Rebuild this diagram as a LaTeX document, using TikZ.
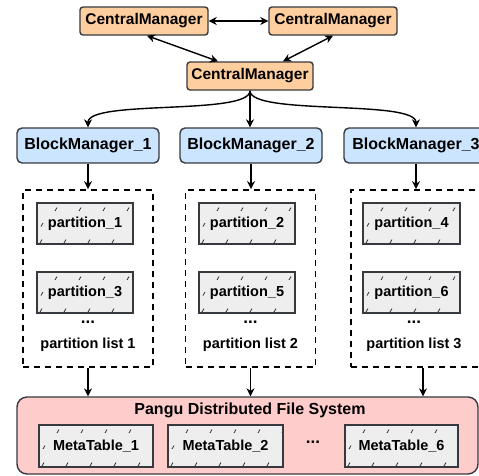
\documentclass[tikz,border=0pt]{standalone}
\usepackage{fontspec}
\setmainfont{Liberation Sans}
\usetikzlibrary{arrows.meta,positioning,calc}
\definecolor{cmfill}{HTML}{FFCE9F}
\definecolor{bmfill}{HTML}{CCE5FF}
\definecolor{fsfill}{HTML}{FFCCCC}
\definecolor{partfill}{HTML}{EEEEEE}
\definecolor{edgegray}{HTML}{36393D}

\begin{document}
\begin{tikzpicture}[
  x=1pt, y=-1pt,
  font=\fontsize{14.5}{16}\selectfont\bfseries,
  line width=1.4pt,
  % boxes of the three levels
  cmbox/.style={draw=edgegray, rounded corners=3pt, fill=cmfill, minimum width=128pt, minimum height=28pt, inner sep=0pt, font=\fontsize{15.5}{17}\selectfont\bfseries},
  bmbox/.style={draw=edgegray, rounded corners=5pt, fill=bmfill, minimum width=142pt, minimum height=35pt, inner sep=0pt, font=\fontsize{16}{18}\selectfont\bfseries},
  listbox/.style={draw, line width=1.8pt, dash pattern=on 6pt off 5pt, minimum width=130pt, minimum height=177pt, inner sep=0pt},
  fsbox/.style={draw=edgegray, rounded corners=10pt, fill=fsfill, minimum width=461pt, minimum height=77pt, inner sep=0pt},
  dotsnode/.style={font=\fontsize{17}{18}\selectfont\bfseries},
  hatchmark/.style={line width=0.8pt, black!80},
  % grey boxes with sparse hatch marks
  partbox/.style={draw=edgegray, fill=partfill, minimum height=41pt, inner sep=0pt,
    path picture={
      \foreach \k in {0,...,4}{
        \draw[hatchmark] ([shift={(\k*24pt+3pt,1pt)}]path picture bounding box.south west) -- ++(60:4pt);
        \draw[hatchmark] ([shift={(\k*24pt+18pt,-8pt)}]path picture bounding box.north west) -- ++(60:4pt);
      }
      \draw[hatchmark] ([shift={(4pt,-3pt)}]path picture bounding box.west) -- ++(60:4pt);
    }},
  arr/.style={-{Stealth[length=8pt,width=8pt]}},
  dblarr/.style={{Stealth[length=8pt,width=8pt]}-{Stealth[length=8pt,width=8pt]}}
]
  \path[use as bounding box, clip] (0,0) rectangle (479,475);

  \node[cmbox] (cm1) at (144,21) {CentralManager};
  \node[cmbox] (cm2) at (333,21) {CentralManager};
  \node[cmbox, minimum width=126pt] (cm3) at (250,76) {CentralManager};

  \draw[dblarr] (cm1) -- (cm2);
  \draw[dblarr] ([xshift=3pt]cm1.south) -- ([xshift=-32pt]cm3.north);
  \draw[dblarr] (cm2.south) -- ([xshift=33pt]cm3.north);

  \node[bmbox] (bm1) at (88,145.5) {BlockManager\_1};
  \node[bmbox] (bm2) at (251,145.5) {BlockManager\_2};
  \node[bmbox, minimum width=144pt] (bm3) at (416,145.5) {BlockManager\_3};

  \draw[arr] (cm3.south) .. controls +(0,25) and +(0,-28) .. (bm1.north);
  \draw[arr] (cm3.south) -- (cm3.south |- bm2.north);
  \draw[arr] (cm3.south) .. controls +(0,25) and +(0,-28) .. (bm3.north);

  % partition lists
  \node[listbox] (list1) at (88,278.5) {};
  \node[listbox] (list2) at (250.5,278.5) {};
  \node[listbox, minimum width=144pt] (list3) at (423,278.5) {};

  \node[partbox, minimum width=96pt] (p1) at (85,223.5) {partition\_1};
  \node[partbox, minimum width=96pt] (p3) at (85,292.5) {partition\_3};
  \node[dotsnode] (dots1) at (88,322) {...};
  \node (name1) at (88,345) {partition list 1};

  \node[partbox, minimum width=96pt] (p2) at (247,223.5) {partition\_2};
  \node[partbox, minimum width=96pt] (p5) at (247,292.5) {partition\_5};
  \node[dotsnode] (dots2) at (250.5,322) {...};
  \node (name2) at (250.5,345) {partition list 2};

  \node[partbox, minimum width=97pt] (p4) at (411.5,223.5) {partition\_4};
  \node[partbox, minimum width=97pt] (p6) at (411.5,292.5) {partition\_6};
  \node[dotsnode] (dots3) at (414,322) {...};
  \node (name3) at (414,345) {partition list 3};

  \foreach \b in {bm1,bm2,bm3} \draw[arr] (\b.south) -- (\b.south |- list1.north);

  % file system
  \node[fsbox] (fs) at (247.5,435.5) {};
  \node[font=\fontsize{16}{18}\selectfont\bfseries] (fstitle) at (250,410) {Pangu Distributed File System};
  \node[partbox, minimum width=114pt, minimum height=42pt] (mt1) at (96,446) {MetaTable\_1};
  \node[partbox, minimum width=115pt, minimum height=42pt] (mt2) at (225.5,446) {MetaTable\_2};
  \node[dotsnode] (mtdots) at (313,442) {...};
  \node[partbox, minimum width=113pt, minimum height=42pt] (mt6) at (401.5,446) {MetaTable\_6};

  \foreach \l in {list1,list2,list3} \draw[arr] (\l.south) -- (\l.south |- fs.north);
\end{tikzpicture}
\end{document}
